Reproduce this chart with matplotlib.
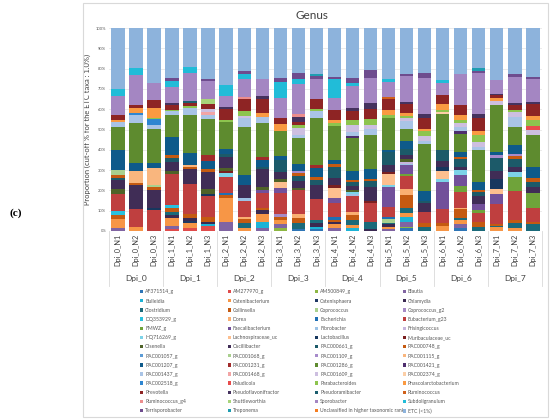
import numpy as np
import matplotlib
matplotlib.use("Agg")
import matplotlib.pyplot as plt
from matplotlib.patches import Rectangle
from matplotlib.transforms import blended_transform_factory

plt.rcParams['font.family'] = ['Lato', 'DejaVu Sans']

# samples (x categories) and their groups
samples = ["Dpi_%d_N%d" % (d, n) for d in range(8) for n in (1, 2, 3)]
groups = ["Dpi_0", "Dpi_1", "Dpi_2", "Dpi_3", "Dpi_4", "Dpi_5", "Dpi_6", "Dpi_7"]

# relative abundance (%) per genus, one value per sample
af371514_g = [0, 0, 0, 0, 0, 0, 0, 0, 0, 0, 1, 1, 0, 0, 0, 0, 1.3, 0, 0, 1.3, 0, 0, 0, 0]
am277970_g = [0, 0, 0, 1.1, 1.3, 2.3, 0, 0, 0, 0, 0, 0, 0, 0, 0, 0, 0, 0, 0, 0, 0, 0, 0, 0]
am500849_g = [0, 0, 0, 0, 0, 0, 0, 0, 0, 1.3, 0, 0, 0, 0, 0, 0, 0.8, 0, 0, 0, 0, 0, 0, 0]
blautia = [1.6, 0, 0, 1.3, 0, 0, 4.3, 0, 1.6, 2.1, 0, 0, 1.3, 0, 0, 1, 2.1, 0, 0, 2, 0, 0, 0, 0]
bulleidia = [0, 0, 0, 0, 0, 1.3, 0, 0, 3, 0, 0, 1.1, 0, 1.3, 0, 0, 2.8, 0, 0, 0, 0, 0, 0, 0]
catenibacterium = [4.3, 2, 0, 3.8, 2.5, 0, 11.8, 1.6, 3.6, 2, 0, 0, 2, 1.6, 0, 0.8, 2.1, 0, 2.3, 2.1, 0, 2.1, 1.6, 0]
catenisphaera = [0, 0, 0, 0, 1.1, 0, 0, 0, 0, 0, 0, 0, 0, 0, 0, 0, 0, 0, 0, 0, 0, 0, 0, 0]
chlamydia = [0, 0, 0, 1.6, 1.3, 0.8, 0, 0, 2.1, 0, 0, 1.6, 1, 0, 1, 1.6, 0, 0, 0, 0, 0, 0, 0, 0]
clostridium = [0, 0, 0, 1.6, 0, 0, 0, 2.5, 0, 0, 2.8, 1.6, 0, 2.7, 3.6, 0.5, 2, 2.1, 0, 1.1, 2.1, 0.5, 2.1, 3.3]
collinsella = [2, 0, 0, 2, 2, 2.3, 1.6, 1.6, 1.1, 1.6, 2.5, 0, 1.1, 2.5, 0, 0, 6.6, 1.6, 1.6, 4.3, 2.5, 1.1, 1.6, 1.3]
coprococcus = [0, 0, 0, 0, 0, 0, 0, 0, 0, 0, 0, 0, 0, 0, 0, 2.1, 0, 0, 0, 0, 0, 0, 0, 0]
coprococcus_g2 = [0, 0, 0, 0, 0, 0, 0, 0, 0, 1.3, 0, 0, 0, 0, 0, 0, 0, 0, 0, 0, 0, 0, 0, 0]
dq353929_g = [2, 0, 0, 1.3, 0, 0, 0, 0, 0, 0, 0, 0, 0, 0, 0, 0, 0, 0, 0, 0, 0, 0, 0, 0]
dorea = [0, 0, 0, 0, 0, 0, 0, 1.3, 0, 0, 2, 0, 0, 1.3, 0, 0, 3, 0, 0, 0.7, 0, 0, 0, 0]
escherichia = [0, 0, 0, 0, 0, 0, 1.1, 0, 0, 0, 0, 0, 1.6, 0, 0, 0.8, 0, 0, 0, 0, 0, 0, 0, 0]
eubacterium_g23 = [8.5, 8.9, 10.3, 15.6, 14.8, 10.5, 7.9, 7.7, 7, 10.3, 12, 10.3, 7, 8, 9, 4.9, 6.6, 5.8, 6.9, 7.5, 4.1, 9.4, 14.3, 6.6]
fmwz_g = [0, 0, 0, 0, 0, 0, 0, 0, 0, 0, 0, 0, 0, 0, 0, 0, 0.7, 0, 0, 3.3, 1.6, 0, 7, 7.4]
faecalibacterium = [0, 0, 0, 0, 0, 0, 0, 0, 1.6, 2.5, 0, 0, 2, 0, 0, 9.9, 4.3, 0, 13.3, 5.3, 2.8, 5.4, 0, 0]
fibrobacter = [0, 0, 0, 0, 0, 0, 0, 1.3, 0, 0, 0, 0, 0, 1, 0, 0, 0.7, 0, 0, 0, 0, 0, 0, 0]
frisingicoccus = [0, 0, 0, 0, 0, 0, 0, 0, 0, 0, 0, 0, 0, 0, 0, 0, 1, 0, 0, 0, 0, 0, 0, 0]
hq716269_g = [0, 0, 0, 0, 0, 0, 1.6, 0, 0, 0, 0, 0, 0, 0.8, 0, 1.1, 0, 0, 1.1, 2.2, 0, 0, 2.5, 0]
lachnospiraceae_uc = [0, 0, 0, 0, 0, 0, 0, 0, 0, 3.3, 0, 0, 5.3, 0, 0, 5.4, 0, 0, 4, 0, 0, 2.5, 0, 0]
lactobacillus = [0, 0, 0.8, 0, 0, 1, 0, 0, 0, 0, 0, 0, 0, 0, 0, 0, 0, 0, 2.1, 0, 0, 4.9, 0, 0]
muribaculaceae_uc = [0, 0, 0, 0, 0, 0, 1.1, 0, 0, 0, 0, 0, 1.3, 0, 1.1, 1.1, 0, 0, 0, 0, 0, 0, 0, 0]
olsenella = [2, 0, 0, 1.3, 0, 2.5, 1.3, 0, 1.6, 1.1, 1.1, 0, 0, 0.8, 0, 0, 1.6, 0, 0, 0, 0, 0, 0, 0]
oscillibacter = [4.6, 11.8, 9, 4.8, 7, 8, 5.7, 6.6, 9, 3.8, 3, 7.2, 3.3, 2, 7, 3.3, 2, 4.4, 3, 1.6, 4.3, 3.6, 2.5, 3.3]
pac000661_g = [1.1, 0, 0, 1.6, 0, 0, 1.6, 0, 0.8, 5.7, 2.5, 2.1, 5.7, 2.3, 2.8, 6.2, 3, 1, 5.3, 3.8, 1.6, 6.6, 3.8, 2.1]
pac000748_g = [1.3, 1.1, 1.6, 1.6, 1.1, 1.6, 0, 0, 0, 0, 1.6, 1.6, 1.1, 1.1, 1.3, 0, 0, 0, 0, 1.1, 1.1, 0, 1.6, 2.3]
pac001057_g = [0] * 24
pac001068_g = [2.4, 0, 0.8, 0, 0, 0, 0, 0, 0, 0, 0, 0, 0, 0, 0, 0, 0, 0, 0, 0, 0, 0, 0, 0]
pac001109_g = [0, 0, 0, 0, 0, 0, 0, 0, 0, 0, 0.8, 0, 0, 0, 0, 0, 0, 0, 0, 0, 0, 1.3, 0.7, 0]
pac001115_g = [0, 5.7, 8.2, 0, 1, 0, 0, 0, 0, 0, 0, 0, 0, 0, 0, 0, 0, 0, 0, 0, 0, 0, 0, 0]
pac001207_g = [9.8, 4.1, 2.5, 9, 6, 4.1, 2.5, 4.9, 3.3, 2, 3.6, 4.4, 2.1, 4, 4.9, 1, 3.6, 4.8, 0, 2.5, 4.1, 1.6, 4.6, 5.4]
pac001231_g = [0, 0, 0, 0, 0, 2.6, 0, 0, 1.6, 0, 0, 1.3, 0, 0, 0, 0, 0, 0, 0, 0, 0, 0, 0, 0]
pac001286_g = [11.2, 19.7, 16.4, 10.7, 18.6, 18, 12.8, 23.3, 16.4, 12.5, 12.8, 23.3, 16.9, 16.4, 16.7, 15.9, 6.2, 22.7, 17.8, 9, 15.6, 23.3, 9, 15.6]
pac001421_g = [0, 0, 0, 0, 0, 0, 0, 0, 0, 0, 0, 0, 0, 1.1, 0, 0, 0, 0, 0, 1.1, 0, 0, 0, 0]
pac001437_g = [2.7, 3.8, 2, 2.1, 3.3, 2, 0, 4.3, 3.3, 0, 1.6, 3.3, 0, 2.1, 3, 0, 3.6, 1.5, 0, 2.1, 1.6, 0, 4.9, 0]
pac001468_g = [0, 0, 0, 0, 0, 1.5, 0, 0, 0, 0, 0, 0, 0, 0, 0, 0, 0, 0, 0, 0, 0, 0, 0, 0]
pac001609_g = [0, 0, 0, 0, 0, 1, 0, 1.1, 0, 0, 3.3, 0, 0, 3.3, 1.6, 0, 1.6, 2.6, 0, 2.1, 2.5, 2.1, 2.1, 2.5]
pac002374_g = [0, 0, 0, 0, 0, 0, 0, 0, 0, 0, 0, 0, 0, 0, 0, 0, 0, 0, 0.8, 0, 0, 0, 0, 0]
pac002518_g = [0, 0.8, 3, 0, 0, 0, 0, 0, 0, 0, 0, 0, 0, 0, 0, 0, 0, 0, 0, 0, 0, 0, 0, 0]
paludicola = [0, 0, 0, 0, 0, 0, 0, 0, 0, 0, 0, 0, 0, 0, 0, 0, 0, 0, 0, 0, 0, 0, 0, 2.1]
parabacteroides = [0, 0, 0.8, 0.8, 1.1, 0, 1.1, 2.5, 0, 0, 1.6, 1.3, 1.5, 2.6, 3.3, 1.3, 1.1, 2.6, 1, 1.6, 3.3, 0, 1.1, 2.8]
phascolarctobacterium = [0.8, 2.7, 4.6, 0, 0, 0, 0, 0, 1.6, 3.3, 0, 0, 1.6, 0, 0, 2.5, 1.3, 1, 3, 2, 2, 1.1, 0, 2.1]
prevotella = [2.5, 1.6, 4.1, 2, 1.3, 2.9, 5.4, 5.7, 7, 2.8, 1.6, 4.6, 4.6, 4.1, 4.6, 5.4, 4.4, 5.4, 4.1, 5.3, 6.6, 1.5, 2.5, 5.6]
pseudoflavonifractor = [0, 0, 0, 1, 0, 0, 1.1, 0, 1.6, 0, 2.5, 0, 0, 1.6, 3.3, 0, 1, 2, 0, 0, 1.6, 0.6, 0.8, 1]
pseudoramibacter = [0, 0, 0, 0, 1.1, 0, 0, 0, 0, 0, 0, 0, 0, 0, 0, 0, 0, 0, 0, 0, 0, 0, 0, 0]
ruminococcus = [0, 0, 0, 0, 0, 0, 0, 0, 0, 0, 0, 0, 0, 0, 0, 1.1, 0, 0, 0, 0, 0, 0, 0, 0]
ruminococcus_g4 = [0, 0, 0, 0, 0, 0, 0, 0.8, 0, 0, 1.1, 0, 0, 0, 0, 0, 0, 0, 0, 0, 0, 0, 0, 0]
shuttleworthia = [0, 0, 0, 0, 0, 2.2, 0, 0, 0, 0, 0, 0, 0, 0, 0, 0, 0, 0, 0, 0, 0, 0, 0, 0]
sporobacter = [9.5, 14.5, 8, 8.2, 13.5, 9, 5.3, 9, 8.2, 10.2, 14.8, 9.9, 6.1, 11, 12.2, 7.4, 13, 17.6, 6.3, 14.8, 20.2, 7.1, 13.1, 11.5]
subdoligranulum = [3.6, 3.3, 0, 3.1, 3, 0, 5.7, 2.5, 0, 7.9, 2.6, 0, 9.2, 1.3, 0, 1.3, 0, 0, 1.1, 0, 0, 0, 0, 0]
terrisporobacter = [0, 0, 0, 1.3, 0, 1, 0, 1.3, 0, 1.6, 2.8, 1.5, 1.1, 2.5, 3.8, 0, 0.8, 2.3, 0, 0, 1.1, 0, 1.1, 1.1]
treponema = [0, 0, 0, 0, 0, 0, 0, 0, 0, 0, 0, 0.8, 0, 0, 0, 0, 0, 0, 0, 0, 1.3, 0, 0, 0]
unclassified = [0] * 24
etc_lt1 = [29.7, 19.9, 27, 24.8, 19, 24.8, 27.8, 21, 25, 24.8, 22.3, 22.8, 24, 24.8, 20.7, 25.1, 22.8, 22, 25.6, 22.8, 19.9, 25.6, 22.8, 24]

taxa = ["AF371514_g", "AM277970_g", "AM500849_g", "Blautia", "Bulleidia", "Catenibacterium",
        "Catenisphaera", "Chlamydia", "Clostridium", "Collinsella", "Coprococcus", "Coprococcus_g2",
        "DQ353929_g", "Dorea", "Escherichia", "Eubacterium_g23", "FMWZ_g", "Faecalibacterium",
        "Fibrobacter", "Frisingicoccus", "HQ716269_g", "Lachnospiraceae_uc", "Lactobacillus",
        "Muribaculaceae_uc", "Olsenella", "Oscillibacter", "PAC000661_g", "PAC000748_g",
        "PAC001057_g", "PAC001068_g", "PAC001109_g", "PAC001115_g", "PAC001207_g", "PAC001231_g",
        "PAC001286_g", "PAC001421_g", "PAC001437_g", "PAC001468_g", "PAC001609_g", "PAC002374_g",
        "PAC002518_g", "Paludicola", "Parabacteroides", "Phascolarctobacterium", "Prevotella",
        "Pseudoflavonifractor", "Pseudoramibacter", "Ruminococcus", "Ruminococcus_g4",
        "Shuttleworthia", "Sporobacter", "Subdoligranulum", "Terrisporobacter", "Treponema",
        "Unclassified in higher taxonomic rank", "ETC (<1%)"]

series = [af371514_g, am277970_g, am500849_g, blautia, bulleidia, catenibacterium,
          catenisphaera, chlamydia, clostridium, collinsella, coprococcus, coprococcus_g2,
          dq353929_g, dorea, escherichia, eubacterium_g23, fmwz_g, faecalibacterium,
          fibrobacter, frisingicoccus, hq716269_g, lachnospiraceae_uc, lactobacillus,
          muribaculaceae_uc, olsenella, oscillibacter, pac000661_g, pac000748_g,
          pac001057_g, pac001068_g, pac001109_g, pac001115_g, pac001207_g, pac001231_g,
          pac001286_g, pac001421_g, pac001437_g, pac001468_g, pac001609_g, pac002374_g,
          pac002518_g, paludicola, parabacteroides, phascolarctobacterium, prevotella,
          pseudoflavonifractor, pseudoramibacter, ruminococcus, ruminococcus_g4,
          shuttleworthia, sporobacter, subdoligranulum, terrisporobacter, treponema,
          unclassified, etc_lt1]

colors = ['#2E75B6', '#E04B4B', '#8DB743', '#8064A2', '#1CB3D6', '#F79646',
          '#1F3864', '#3B2A52', '#1B6A7A', '#C55A11', '#A9D18E', '#A68BC6',
          '#29C1DE', '#FAAF72', '#1F6FB4', '#BF3F3F', '#6FA33A', '#72509A',
          '#9DC3E6', '#C5B4DD', '#7DD3E8', '#FDBF8F', '#17375E',
          '#7B2020', '#4F6228', '#402D56', '#1C5A69', '#C55A11',
          '#5B9BD5', '#A9D08E', '#A78BCB', '#F9B67E', '#0E5A8A', '#A12B2B',
          '#5E8B2F', '#4E2E6E', '#A9C4E6', '#F2A5A5', '#CDBFE0', '#FCCFA7',
          '#2E86D1', '#E84C4C', '#8DC44E', '#FA9A42', '#8E2424',
          '#45325E', '#1B5E6E', '#D0601A', '#EC8D8D',
          '#A8D47A', '#A486C2', '#21BCD8', '#6E4C8E', '#1E9DB1',
          '#F57D20', '#8DB3DC']

# 100 % stacked
data = np.array(series, dtype=float)
data = data / data.sum(axis=0) * 100

fig = plt.figure(figsize=(5.5, 4.2), dpi=100)
fig.patches.append(Rectangle((0.151, 0.007), 0.846, 0.986, transform=fig.transFigure,
                             fill=False, edgecolor='#D9D9D9', linewidth=0.8))
ax = fig.add_axes([0.198, 0.45, 0.7873, 0.4833])

x = np.arange(len(samples))
bottom = np.zeros(len(samples))
handles = []
for name, vals, c in zip(taxa, data, colors):
    h = ax.bar(x, vals, bottom=bottom, width=0.74, color=c, label=name, linewidth=0, zorder=2)
    handles.append(h)
    bottom += vals

ax.set_xlim(-0.5, len(samples) - 0.5)
ax.set_ylim(0, 100)
ax.set_yticks(np.arange(0, 101, 10))
ax.set_yticklabels(["%d%%" % v for v in range(0, 101, 10)], fontsize=3, color='#595959')
ax.yaxis.grid(True, color='#E3E3E3', linewidth=0.5, zorder=0)
ax.set_axisbelow(True)
for s in ax.spines.values():
    s.set_visible(False)
ax.tick_params(axis='y', length=0, pad=2)
ax.set_xticks(x)
ax.set_xticklabels(samples, rotation=90, fontsize=5.3, color='#404040')
ax.tick_params(axis='x', length=0, pad=2)
ax.set_ylabel("Proportion (cut-off % for the ETC taxa : 1.0%)", fontsize=5.4, color='#404040')
ax.yaxis.set_label_coords(-0.042, 0.5)

# multi-level category axis: group separators and group names
trans = blended_transform_factory(ax.transData, ax.transAxes)
for i in range(len(groups) + 1):
    ax.plot([i * 3 - 0.5] * 2, [0, -0.27], transform=trans, color='#D9D9D9',
            linewidth=0.6, clip_on=False)
for i, g in enumerate(groups):
    ax.text(i * 3 + 1, -0.236, g, transform=trans, ha='center', va='center',
            fontsize=6, color='#404040')

fig.text(0.568, 0.964, "Genus", ha='center', va='center', fontsize=8.5, color='#404040')
fig.text(0.018, 0.493, "(c)", ha='left', va='center', fontsize=8, fontweight='bold',
         family='Liberation Serif')

# legend: 4 evenly spaced columns, entries read row by row
col_x = [0.2545, 0.414, 0.5727, 0.732]
for c in range(4):
    idx = list(range(c, len(taxa), 4))
    fig.legend([handles[i] for i in idx], [taxa[i] for i in idx], loc='upper left',
               bbox_to_anchor=(col_x[c], 0.311), frameon=False, fontsize=3.7,
               borderpad=0, borderaxespad=0, handlelength=0.65, handleheight=0.65,
               handletextpad=0.35, labelspacing=0.81, labelcolor='#595959')

fig.savefig("out.png", dpi=100)
